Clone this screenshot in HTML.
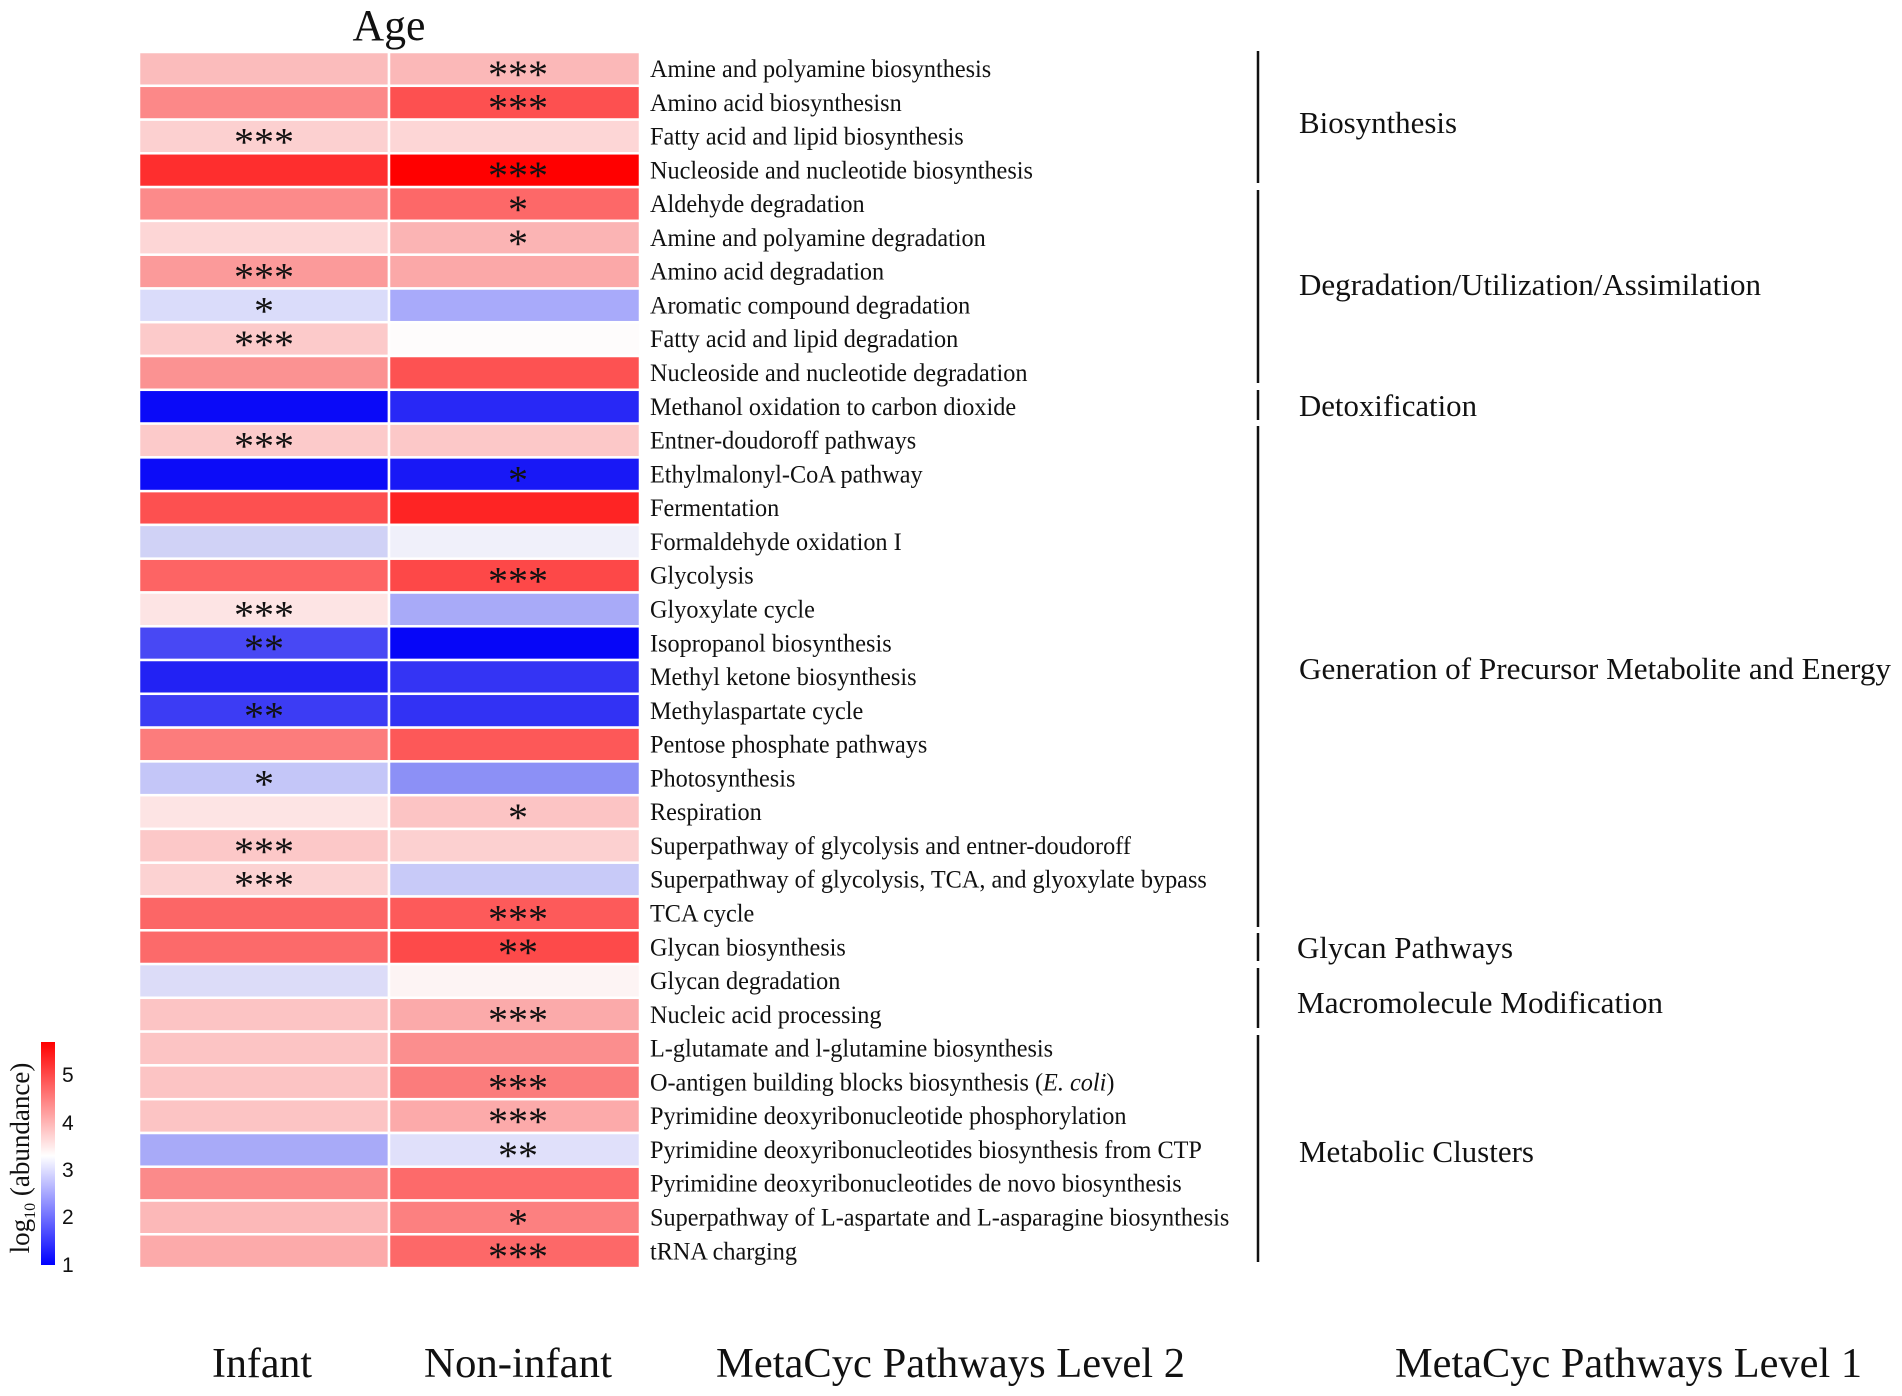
<!DOCTYPE html>
<html><head><meta charset="utf-8"><style>
html,body{margin:0;padding:0;background:#fff;}
svg{display:block;}
text{font-family:"Liberation Serif",serif;fill:#111;}
</style></head><body>
<svg width="1902" height="1396" viewBox="0 0 1902 1396" xmlns="http://www.w3.org/2000/svg">
<defs>
<linearGradient id="cb" x1="0" y1="1" x2="0" y2="0">
<stop offset="0" stop-color="#0000ff"/>
<stop offset="0.49" stop-color="#ffffff"/>
<stop offset="1" stop-color="#ff0000"/>
</linearGradient>
</defs>
<text x="389" y="40" font-size="44" text-anchor="middle" textLength="73" lengthAdjust="spacingAndGlyphs">Age</text>
<g id="cells" stroke="#fff" stroke-width="2.5"></g>
<g id="stars" font-size="40" text-anchor="middle"></g>
<g id="labels" font-size="25"></g>
<g stroke="#111" stroke-width="2.5">
<line x1="1258" y1="51" x2="1258" y2="183"/>
<line x1="1258" y1="190" x2="1258" y2="383"/>
<line x1="1258" y1="390" x2="1258" y2="420"/>
<line x1="1258" y1="426" x2="1258" y2="927"/>
<line x1="1258" y1="933" x2="1258" y2="961"/>
<line x1="1258" y1="968" x2="1258" y2="1028"/>
<line x1="1258" y1="1035" x2="1258" y2="1262"/>
</g>
<g font-size="31">
<text x="1299" y="133" textLength="158" lengthAdjust="spacingAndGlyphs">Biosynthesis</text>
<text x="1299" y="295" textLength="462" lengthAdjust="spacingAndGlyphs">Degradation/Utilization/Assimilation</text>
<text x="1299" y="416" textLength="178" lengthAdjust="spacingAndGlyphs">Detoxification</text>
<text x="1299" y="679" textLength="592" lengthAdjust="spacingAndGlyphs">Generation of Precursor Metabolite and Energy</text>
<text x="1297" y="958" textLength="216" lengthAdjust="spacingAndGlyphs">Glycan Pathways</text>
<text x="1297" y="1013" textLength="366" lengthAdjust="spacingAndGlyphs">Macromolecule Modification</text>
<text x="1299" y="1162" textLength="235" lengthAdjust="spacingAndGlyphs">Metabolic Clusters</text>
</g>
<rect x="41" y="1042" width="14" height="223" fill="url(#cb)"/>
<g font-size="21">
<text x="62" y="1082" style="font-family:'Liberation Sans',sans-serif">5</text>
<text x="62" y="1130" style="font-family:'Liberation Sans',sans-serif">4</text>
<text x="62" y="1177" style="font-family:'Liberation Sans',sans-serif">3</text>
<text x="62" y="1224" style="font-family:'Liberation Sans',sans-serif">2</text>
<text x="62" y="1272" style="font-family:'Liberation Sans',sans-serif">1</text>
</g>
<text transform="translate(29,1158) rotate(-90)" font-size="27" text-anchor="middle">log<tspan font-size="16" dy="6">10</tspan><tspan dy="-6"> (abundance)</tspan></text>
<g font-size="42">
<text x="212" y="1377" textLength="100" lengthAdjust="spacingAndGlyphs">Infant</text>
<text x="424" y="1377" textLength="188" lengthAdjust="spacingAndGlyphs">Non-infant</text>
<text x="716" y="1377" textLength="469" lengthAdjust="spacingAndGlyphs">MetaCyc Pathways Level 2</text>
<text x="1395" y="1377" textLength="467" lengthAdjust="spacingAndGlyphs">MetaCyc Pathways Level 1</text>
</g>
</svg>
<script>
(function(){
var rows=[
["Amine and polyamine biosynthesis","#fbbcbc","#fbb8b8","","***"],
["Amino acid biosynthesisn","#fc8888","#fd5050","","***"],
["Fatty acid and lipid biosynthesis","#fcd0d0","#fdd6d6","***",""],
["Nucleoside and nucleotide biosynthesis","#fe2e2e","#ff0000","","***"],
["Aldehyde degradation","#fc8a8a","#fd6868","","*"],
["Amine and polyamine degradation","#fdd6d6","#fbb4b4","","*"],
["Amino acid degradation","#fb9a9a","#fba8a8","***",""],
["Aromatic compound degradation","#dadcfa","#a8aafa","*",""],
["Fatty acid and lipid degradation","#fccaca","#fefcfc","***",""],
["Nucleoside and nucleotide degradation","#fb9292","#fd5252","",""],
["Methanol oxidation to carbon dioxide","#0a0af8","#2828f6","",""],
["Entner-doudoroff pathways","#fccaca","#fcc8c8","***",""],
["Ethylmalonyl-CoA pathway","#0c0cf8","#1818f6","","*"],
["Fermentation","#fd5050","#fe2424","",""],
["Formaldehyde oxidation I","#d0d2f6","#f0f0fa","",""],
["Glycolysis","#fd6464","#fd4848","","***"],
["Glyoxylate cycle","#fde4e4","#a8aaf8","***",""],
["Isopropanol biosynthesis","#4848f4","#0606f8","**",""],
["Methyl ketone biosynthesis","#2222f4","#3434f4","",""],
["Methylaspartate cycle","#3c3cf4","#3232f4","**",""],
["Pentose phosphate pathways","#fc7c7c","#fd5858","",""],
["Photosynthesis","#c4c6f8","#8c90f6","*",""],
["Respiration","#fde4e4","#fcc4c4","","*"],
["Superpathway of glycolysis and entner-doudoroff","#fcc8c8","#fcd0d0","***",""],
["Superpathway of glycolysis, TCA, and glyoxylate bypass","#fcd2d2","#c8caf8","***",""],
["TCA cycle","#fc6666","#fd5a5a","","***"],
["Glycan biosynthesis","#fc6a6a","#fd4a4a","","**"],
["Glycan degradation","#dcdcf8","#fdf4f4","",""],
["Nucleic acid processing","#fcc4c4","#fbaaaa","","***"],
["L-glutamate and l-glutamine biosynthesis","#fcc4c4","#fb8e8e","",""],
["O-antigen building blocks biosynthesis (<tspan font-style='italic'>E. coli</tspan>)","#fcc4c4","#fb7c7c","","***"],
["Pyrimidine deoxyribonucleotide phosphorylation","#fcc4c4","#fcaaaa","","***"],
["Pyrimidine deoxyribonucleotides biosynthesis from CTP","#a8aaf8","#e0e0fa","","**"],
["Pyrimidine deoxyribonucleotides de novo biosynthesis","#fb8a8a","#fd6a6a","",""],
["Superpathway of L-aspartate and L-asparagine biosynthesis","#fcb8b8","#fc8080","","*"],
["tRNA charging","#fcaaaa","#fd6868","","***"]
];
var c="",s="",l="",y0=52,h=33.78;
rows.forEach(function(r,i){
 var y=y0+i*h;
 c+='<rect x="139" y="'+y.toFixed(1)+'" width="250" height="'+h.toFixed(2)+'" fill="'+r[1]+'"/>';
 c+='<rect x="389" y="'+y.toFixed(1)+'" width="251" height="'+h.toFixed(2)+'" fill="'+r[2]+'"/>';
 var cy=y+h/2+19;
 if(r[3]) s+='<text x="264" y="'+cy.toFixed(1)+'">'+r[3]+'</text>';
 if(r[4]) s+='<text x="518" y="'+cy.toFixed(1)+'">'+r[4]+'</text>';
 l+='<text x="650" y="'+(y+25).toFixed(1)+'">'+r[0]+'</text>';
});
document.getElementById('cells').innerHTML=c;
document.getElementById('stars').innerHTML=s;
var L=document.getElementById('labels');
L.innerHTML=l;
L.setAttribute('transform','translate(650,0) scale(0.97,1) translate(-650,0)');
})();
</script>
</body></html>
